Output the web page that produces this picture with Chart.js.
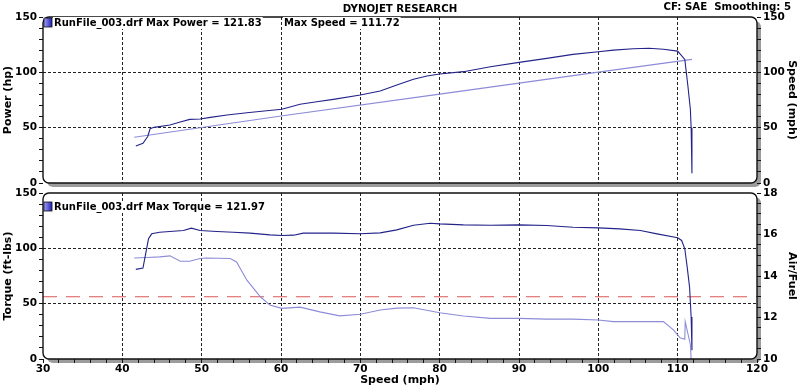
<!DOCTYPE html>
<html>
<head>
<meta charset="utf-8">
<script src="https://cdn.jsdelivr.net/npm/chart.js@4.4.0/dist/chart.umd.min.js"></script>
<style>
  body { margin: 0; background: #fff; width: 800px; height: 387px; overflow: hidden; position: relative; }
  canvas { position: absolute; left: 0; }
  #powerChart { top: 0; }
  #torqueChart { top: 178px; }
</style>
</head>
<body>
<canvas id="powerChart" width="800" height="192"></canvas>
<canvas id="torqueChart" width="800" height="209"></canvas>
<script>
// header + legend strings
const headerTitle = 'DYNOJET RESEARCH';
const headerInfo = 'CF: SAE  Smoothing: 5';
const powerLegend = ['RunFile_003.drf Max Power = 121.83', 'Max Speed = 111.72'];
const torqueLegend = ['RunFile_003.drf Max Torque = 121.97'];

// top panel - power (hp) and speed (mph) against speed (mph)
const powerMph = [41.7, 42.6, 43.2, 43.5, 44.0, 46.0, 47.3, 48.5, 49.8, 51.1, 53.2, 55.7, 58.2, 60.1, 62.4, 64.5, 66.6, 70.0, 72.5, 74.6, 76.7, 78.4, 80.0, 83.0, 86.4, 90.0, 93.5, 96.8, 100.0, 101.9, 104.4, 106.4, 108.2, 110.0, 110.9, 111.3, 111.6, 111.7, 111.8];
const powerHp = [33.4, 35.9, 42.0, 49.0, 50.3, 52.4, 55.1, 57.5, 57.8, 59.3, 61.4, 63.5, 65.3, 66.6, 71.1, 73.4, 75.6, 79.5, 83.1, 88.5, 93.7, 96.7, 98.5, 100.6, 105.1, 109.0, 112.6, 116.2, 118.6, 120.1, 121.3, 121.8, 120.8, 119.2, 111.7, 87.0, 66.6, 50.0, 8.7];
const speedMph = [41.5, 60.0, 80.0, 100.0, 111.8];
const speedVal = [41.4, 60.6, 80.3, 100.2, 111.7];

// bottom panel - torque (ft-lbs) and air/fuel
const torqueMph = [41.7, 42.6, 43.3, 43.7, 44.7, 46.4, 47.7, 48.7, 49.8, 51.9, 54.0, 56.1, 58.6, 60.1, 61.6, 62.8, 66.6, 70.0, 72.5, 74.6, 76.7, 78.8, 80.0, 83.0, 86.4, 90.0, 93.5, 96.8, 100.0, 102.7, 105.3, 107.4, 110.0, 110.5, 110.9, 111.2, 111.5, 111.7, 111.8];
const torqueVal = [81.0, 82.2, 108.6, 113.1, 114.6, 115.5, 116.1, 118.2, 116.1, 115.2, 114.6, 113.7, 112.2, 111.6, 111.9, 113.7, 113.7, 113.2, 114.0, 116.7, 120.9, 122.7, 122.1, 121.2, 120.9, 121.2, 120.6, 119.1, 118.5, 117.6, 116.1, 113.1, 109.5, 107.1, 99.6, 83.0, 65.0, 38.0, 8.0];
const afrMph = [41.5, 43.1, 44.7, 46.0, 47.3, 48.5, 49.8, 50.6, 53.6, 54.4, 55.7, 57.4, 58.6, 60.1, 62.4, 64.9, 67.4, 70.0, 72.5, 74.6, 76.7, 80.0, 83.0, 86.4, 90.0, 93.5, 96.8, 100.0, 101.9, 104.4, 108.2, 109.5, 110.3, 110.9, 110.95, 111.6, 111.7];
const afrVal = [14.87, 14.89, 14.92, 14.97, 14.71, 14.71, 14.84, 14.87, 14.84, 14.68, 13.8, 13.0, 12.6, 12.44, 12.5, 12.27, 12.08, 12.16, 12.36, 12.45, 12.47, 12.23, 12.07, 11.96, 11.96, 11.92, 11.92, 11.88, 11.8, 11.8, 11.8, 11.39, 11.02, 10.95, 11.8, 10.7, 10.0];
const afrTargetMph = [30, 120];
const afrTarget = [13.0, 13.0];

const darkBlue = '#23238a';
const lightBlue = '#8c8cd8';
const boldFont = { family: 'DejaVu Sans', size: 10.5, weight: 'bold' };
const titleFont = { family: 'DejaVu Sans', size: 11, weight: 'bold' };

function pts(xs, ys) {
    return xs.map((x, i) => ({ x: x, y: ys[i] }));
}

// fixed axis sizes so both panels line up
function fixWidth(w) {
    return function (scale) { scale.width = w; scale.paddingTop = 0; scale.paddingBottom = 0; };
}
function fixHeight(h) {
    return function (scale) { scale.height = h; scale.paddingLeft = 0; scale.paddingRight = 0; };
}

function gridAt(test) {
    return ctx => (ctx.tick && test(ctx.tick.value)) ? '#222' : 'rgba(0,0,0,0)';
}

function lineSet(data, color, axis) {
    return { data: data, borderColor: color, borderWidth: 1.1, pointRadius: 0, tension: 0, yAxisID: axis };
}

function drawLegend(ctx, items, xs, y) {
    ctx.save();
    // little blue icon
    const g = ctx.createLinearGradient(44, 0, 52, 0);
    g.addColorStop(0, '#a0a0ff');
    g.addColorStop(1, '#2020b0');
    ctx.fillStyle = g;
    ctx.fillRect(44, y - 5, 8, 9);
    ctx.strokeStyle = '#111';
    ctx.lineWidth = 0.8;
    ctx.strokeRect(44, y - 5, 8, 9);
    ctx.font = 'bold 10px "DejaVu Sans"';
    ctx.textBaseline = 'middle';
    items.forEach((t, i) => {
        const w = ctx.measureText(t).width;
        ctx.fillStyle = '#fff';
        ctx.fillRect(xs[i] - 1, y - 6, w + 2, 12);
        ctx.fillStyle = '#000';
        ctx.fillText(t, xs[i], y);
    });
    ctx.restore();
}

function panelPath(ctx, a, dx, dy) {
    ctx.beginPath();
    ctx.roundRect(a.left + dx, a.top + dy, a.right - a.left, a.bottom - a.top, 6);
}

const framePlugin = {
    id: 'frame',
    beforeDraw(chart) {
        const ctx = chart.ctx;
        const a = chart.chartArea;
        ctx.save();
        ctx.fillStyle = '#9c9c9c';
        panelPath(ctx, a, 4, 4);
        ctx.fill();
        ctx.fillStyle = '#fff';
        panelPath(ctx, a, 0, 0);
        ctx.fill();
        ctx.restore();
    },
    afterDraw(chart) {
        const ctx = chart.ctx;
        const a = chart.chartArea;
        ctx.save();
        ctx.strokeStyle = '#111';
        ctx.lineWidth = 1.4;
        panelPath(ctx, a, 0, 0);
        ctx.stroke();
        ctx.restore();
        const opts = chart.options.plugins.frame;
        drawLegend(ctx, opts.legend, opts.legendX, opts.legendY);
        if (opts.header) {
            ctx.save();
            ctx.font = 'bold 10.2px "DejaVu Sans"';
            ctx.fillStyle = '#000';
            ctx.textBaseline = 'middle';
            ctx.textAlign = 'center';
            ctx.fillText(headerTitle, 400, 9);
            ctx.textAlign = 'right';
            ctx.fillText(headerInfo, 791, 7);
            ctx.restore();
        }
    }
};

function yAxis(pos, min, max, step, labelTest, gridTest, title, onArea) {
    return {
        type: 'linear',
        position: pos,
        min: min,
        max: max,
        afterFit: fixWidth(43),
        ticks: {
            stepSize: step,
            autoSkip: false,
            font: boldFont,
            color: '#000',
            padding: 2,
            callback: v => labelTest(v) ? v : ''
        },
        grid: {
            drawOnChartArea: onArea,
            color: gridAt(gridTest),
            tickColor: '#111',
            tickLength: 4,
            lineWidth: 1
        },
        border: { display: false, dash: [3, 2] },
        title: { display: true, text: title, font: titleFont, color: '#000', padding: { top: 1.5, bottom: 0 } }
    };
}

function createPowerChart() {
    const ctx = document.getElementById('powerChart').getContext('2d');
    new Chart(ctx, {
        type: 'line',
        data: {
            datasets: [
                lineSet(pts(powerMph, powerHp), darkBlue, 'y'),
                lineSet(pts(speedMph, speedVal), lightBlue, 'y1')
            ]
        },
        options: {
            responsive: false,
            animation: false,
            layout: { padding: { top: 17, left: 0, right: 0, bottom: 0 } },
            scales: {
                x: {
                    type: 'linear',
                    min: 30,
                    max: 120,
                    afterFit: fixHeight(9),
                    ticks: { stepSize: 10, display: false },
                    grid: { color: gridAt(v => v > 30 && v < 120), drawTicks: false },
                    border: { display: false, dash: [3, 2] }
                },
                y: yAxis('left', 0, 150, 10, v => v % 50 === 0, v => v % 50 === 0 && v > 0 && v < 150, 'Power (hp)', true),
                y1: yAxis('right', 0, 150, 10, v => v % 50 === 0, () => false, 'Speed (mph)', false)
            },
            plugins: {
                legend: { display: false },
                tooltip: { enabled: false },
                frame: { legend: powerLegend, legendX: [54, 284], legendY: 23, header: true }
            }
        },
        plugins: [framePlugin]
    });
}

function createTorqueChart() {
    const ctx = document.getElementById('torqueChart').getContext('2d');
    const target = lineSet(pts(afrTargetMph, afrTarget), 'rgba(214,70,70,0.9)', 'y1');
    target.borderDash = [14, 9];
    new Chart(ctx, {
        type: 'line',
        data: {
            datasets: [
                lineSet(pts(torqueMph, torqueVal), darkBlue, 'y'),
                lineSet(pts(afrMph, afrVal), lightBlue, 'y1'),
                target
            ]
        },
        options: {
            responsive: false,
            animation: false,
            layout: { padding: { top: 15, left: 0, right: 0, bottom: 0 } },
            scales: {
                x: {
                    type: 'linear',
                    min: 30,
                    max: 120,
                    afterFit: fixHeight(28),
                    ticks: {
                        stepSize: 2,
                        autoSkip: false,
                        maxRotation: 0,
                        font: boldFont,
                        color: '#000',
                        padding: 0,
                        callback: v => v % 10 === 0 ? v : ''
                    },
                    grid: { color: gridAt(v => v % 10 === 0 && v > 30 && v < 120), tickColor: '#111', tickLength: 4 },
                    border: { display: false, dash: [3, 2] },
                    title: { display: true, text: 'Speed (mph)', font: titleFont, color: '#000', padding: { top: 0, bottom: 0 } }
                },
                y: yAxis('left', 0, 150, 10, v => v % 50 === 0, v => v % 50 === 0 && v > 0 && v < 150, 'Torque (ft-lbs)', true),
                y1: yAxis('right', 10, 18, 0.5, v => v % 2 === 0, () => false, 'Air/Fuel', false)
            },
            plugins: {
                legend: { display: false },
                tooltip: { enabled: false },
                frame: { legend: torqueLegend, legendX: [54], legendY: 29, header: false }
            }
        },
        plugins: [framePlugin]
    });
}

createPowerChart();
createTorqueChart();
</script>
</body>
</html>
